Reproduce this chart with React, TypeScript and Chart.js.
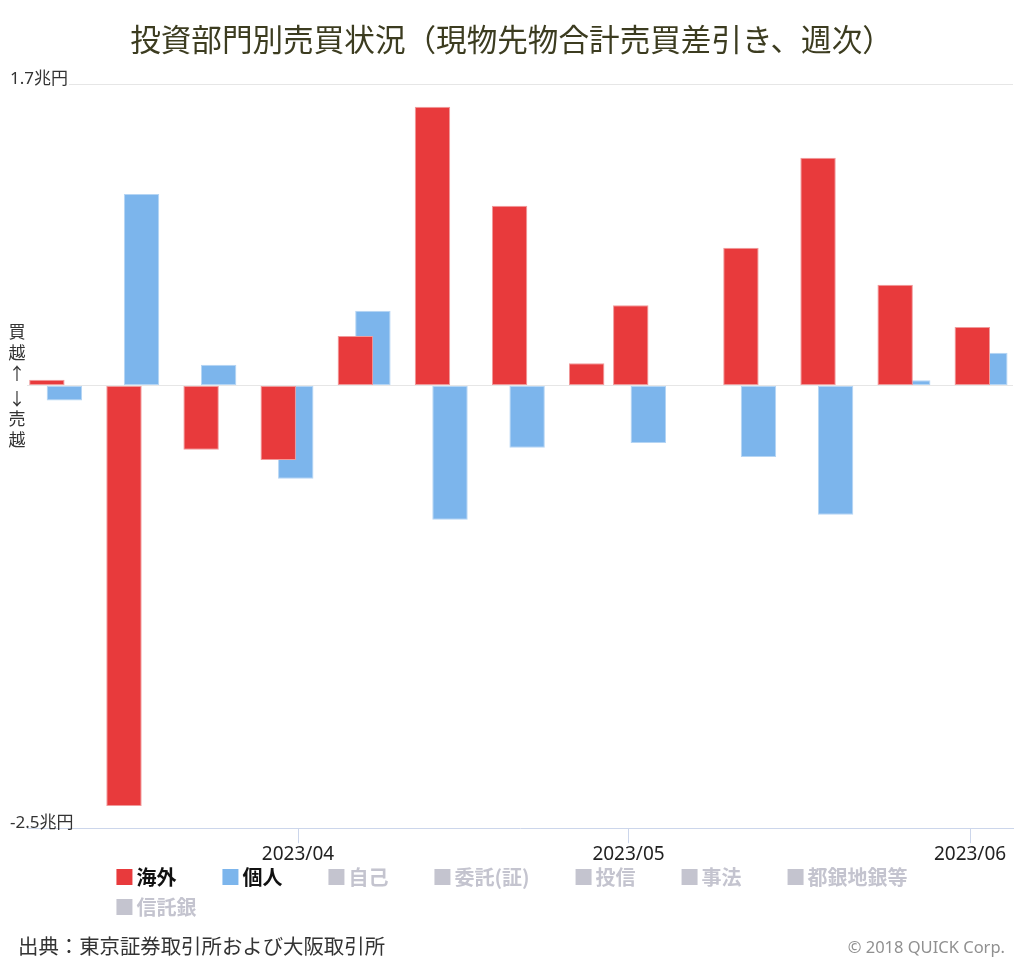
import React, { useEffect, useRef } from 'react';
import { Chart, registerables } from 'chart.js';

Chart.register(...registerables);

const TITLE = '投資部門別売買状況（現物先物合計売買差引き、週次）';

// week-ending dates (bars are placed on a day-based linear axis)
const WEEK_DATES = [
  '2023-03-10', '2023-03-17', '2023-03-24', '2023-03-31', '2023-04-07',
  '2023-04-14', '2023-04-21', '2023-04-28', '2023-05-02', '2023-05-12',
  '2023-05-19', '2023-05-26', '2023-06-02',
];
// 兆円
const FOREIGN = [0.032, -2.374, -0.363, -0.42, 0.28, 1.574, 1.015, 0.126, 0.454, 0.778, 1.286, 0.569, 0.33];
const INDIVIDUAL = [-0.085, 1.082, 0.117, -0.527, 0.423, -0.758, -0.352, 0, -0.325, -0.403, -0.73, 0.03, 0.185];

const SERIES_NAMES = ['海外', '個人'];
const SERIES_COLORS = ['#e83a3c', '#7cb5ec'];
const BORDER_COLORS = ['#f09a9b', '#b5d5f4'];
const HIDDEN_NAMES = ['自己', '委託(証)', '投信', '事法', '都銀地銀等', '信託銀'];
const HIDDEN_COLOR = '#c4c4cf';

const TICK_DATES = ['2023-04-01', '2023-05-01', '2023-06-01'];
const TICK_LABELS = ['2023/04', '2023/05', '2023/06'];
const X_RANGE = ['2023-03-07T09:36:00Z', '2023-06-04T21:36:00Z'];

const Y_TICKS = [-2.5, 0, 1.7];
const Y_UNIT = '兆円';

const SIDE_UP = ['買', '越', '↑'];
const SIDE_DOWN = ['↓', '売', '越'];

const SOURCE = '出典：東京証券取引所および大阪取引所';
const CREDIT = '© 2018 QUICK Corp.';

const CJK = '"Noto Sans CJK JP", "Noto Sans", sans-serif';
const LATIN = '"Noto Sans", "Noto Sans CJK JP", sans-serif';

const DAY = 86400000;
const toDay = (s: string) => Date.parse(s.length === 10 ? s + 'T00:00:00Z' : s) / DAY;

const sideLabelPlugin = {
  id: 'sideLabels',
  afterDraw(chart: any) {
    const ctx = chart.ctx;
    const y0 = chart.scales.y.getPixelForValue(0);
    ctx.save();
    ctx.font = `17px ${CJK}`;
    ctx.fillStyle = '#333333';
    ctx.textAlign = 'center';
    ctx.textBaseline = 'middle';
    const x = 17;
    SIDE_UP.forEach((ch, i) => ctx.fillText(ch, x, y0 - 12 - (SIDE_UP.length - 1 - i) * 21));
    SIDE_DOWN.forEach((ch, i) => ctx.fillText(ch, x, y0 + 13 + i * 20.5));
    ctx.restore();
  },
};

const legendPlugin = {
  id: 'boxLegend',
  afterDraw(chart: any) {
    const ctx = chart.ctx;
    ctx.save();
    ctx.font = `bold 20px ${CJK}`;
    ctx.textAlign = 'left';
    ctx.textBaseline = 'middle';
    const items = [
      ...SERIES_NAMES.map((t, i) => ({ text: t, box: SERIES_COLORS[i], font: '#111111' })),
      ...HIDDEN_NAMES.map((t) => ({ text: t, box: HIDDEN_COLOR, font: HIDDEN_COLOR })),
    ];
    const BOX = 16, GAP = 4, MIN_ADV = 103, SPACE = 46, MAX_W = 860, ROW_H = 30;
    const rows: any[][] = [];
    let row: any[] = [];
    let w = 0;
    items.forEach((it) => {
      const iw = BOX + GAP + ctx.measureText(it.text).width;
      const adv = Math.max(MIN_ADV, iw + SPACE);
      if (row.length && w + iw > MAX_W) {
        rows.push(row);
        row = [];
        w = 0;
      }
      row.push({ ...it, iw, x: w });
      w += adv;
    });
    rows.push(row);
    const first = rows[0];
    const rowW = first[first.length - 1].x + first[first.length - 1].iw;
    const left = (chart.width - rowW) / 2;
    const top = chart.scales.x.bottom + 11;
    rows.forEach((r, ri) => {
      const cy = top + ri * ROW_H;
      r.forEach((it) => {
        ctx.fillStyle = it.box;
        ctx.fillRect(left + it.x, cy - 8, BOX, BOX);
        ctx.fillStyle = it.font;
        ctx.fillText(it.text, left + it.x + BOX + GAP, cy);
      });
    });
    ctx.restore();
  },
};

const footerPlugin = {
  id: 'footerTexts',
  afterDraw(chart: any) {
    const ctx = chart.ctx;
    ctx.save();
    ctx.textBaseline = 'middle';
    ctx.font = `20.4px ${CJK}`;
    ctx.fillStyle = '#333333';
    ctx.textAlign = 'left';
    ctx.fillText(SOURCE, 18, chart.height - 18);
    ctx.font = `16.5px ${LATIN}`;
    ctx.fillStyle = '#909090';
    ctx.textAlign = 'right';
    ctx.fillText(CREDIT, chart.width - 19, chart.height - 16);
    ctx.restore();
  },
};

export default function App() {
  const canvasRef = useRef<HTMLCanvasElement | null>(null);

  useEffect(() => {
    if (!canvasRef.current) return;
    const seriesValues = [FOREIGN, INDIVIDUAL];
    const chart = new Chart(canvasRef.current, {
      type: 'bar',
      data: {
        datasets: SERIES_NAMES.map((name, si) => ({
          label: name,
          data: WEEK_DATES.map((d, i) => ({ x: toDay(d), y: seriesValues[si][i] })),
          backgroundColor: SERIES_COLORS[si],
          borderColor: BORDER_COLORS[si],
          borderWidth: 1,
          borderSkipped: false,
          categoryPercentage: 0.796,
          barPercentage: 2.02,
        })),
      },
      options: {
        responsive: true,
        maintainAspectRatio: false,
        animation: false,
        layout: { padding: { left: 10, right: 11, top: 0, bottom: 98 } },
        plugins: {
          legend: { display: false },
          tooltip: { enabled: false },
          title: {
            display: true,
            text: TITLE,
            color: '#3c3c20',
            font: { family: CJK, size: 30.6, weight: 'normal', lineHeight: 1.2 },
            padding: { top: 20.6, bottom: 27.2 },
          },
        },
        scales: {
          x: {
            type: 'linear',
            min: toDay(X_RANGE[0]),
            max: toDay(X_RANGE[1]),
            bounds: 'data',
            offset: false,
            afterBuildTicks: (axis: any) => {
              axis.ticks = TICK_DATES.map((d) => ({ value: toDay(d) }));
            },
            grid: {
              offset: false,
              drawOnChartArea: false,
              drawTicks: true,
              tickLength: 15,
              color: '#ccd6eb',
            },
            border: { display: true, color: '#ccd6eb', width: 1 },
            ticks: {
              autoSkip: false,
              maxRotation: 0,
              minRotation: 0,
              padding: 0,
              color: '#222222',
              font: { family: LATIN, size: 19 },
              callback: (_v: any, i: number) => TICK_LABELS[i],
            },
          },
          y: {
            min: Y_TICKS[0],
            max: Y_TICKS[Y_TICKS.length - 1],
            afterBuildTicks: (axis: any) => {
              axis.ticks = Y_TICKS.map((v) => ({ value: v }));
            },
            afterFit: (scale: any) => {
              scale.width = 17;
            },
            grid: {
              drawTicks: false,
              color: (c: any) => (c.tick && c.tick.value === Y_TICKS[0] ? 'rgba(0,0,0,0)' : '#e6e6e6'),
            },
            border: { display: false },
            ticks: {
              mirror: true,
              crossAlign: 'near',
              labelOffset: -5,
              padding: -17,
              color: '#333333',
              font: { family: LATIN, size: 17 },
              showLabelBackdrop: (c: any) => !!(c.tick && c.tick.value > 0),
              backdropColor: '#ffffff',
              backdropPadding: { top: 0, bottom: 0, left: 0, right: 1 },
              callback: (v: any) => (v === 0 ? '' : `${v}${Y_UNIT}`),
            },
          },
        },
      } as any,
      plugins: [sideLabelPlugin, legendPlugin, footerPlugin],
    });
    return () => chart.destroy();
  }, []);

  return (
    <div style={{ position: 'fixed', left: 0, top: 0, width: 1024, height: 964, background: '#ffffff' }}>
      <canvas ref={canvasRef} />
    </div>
  );
}
